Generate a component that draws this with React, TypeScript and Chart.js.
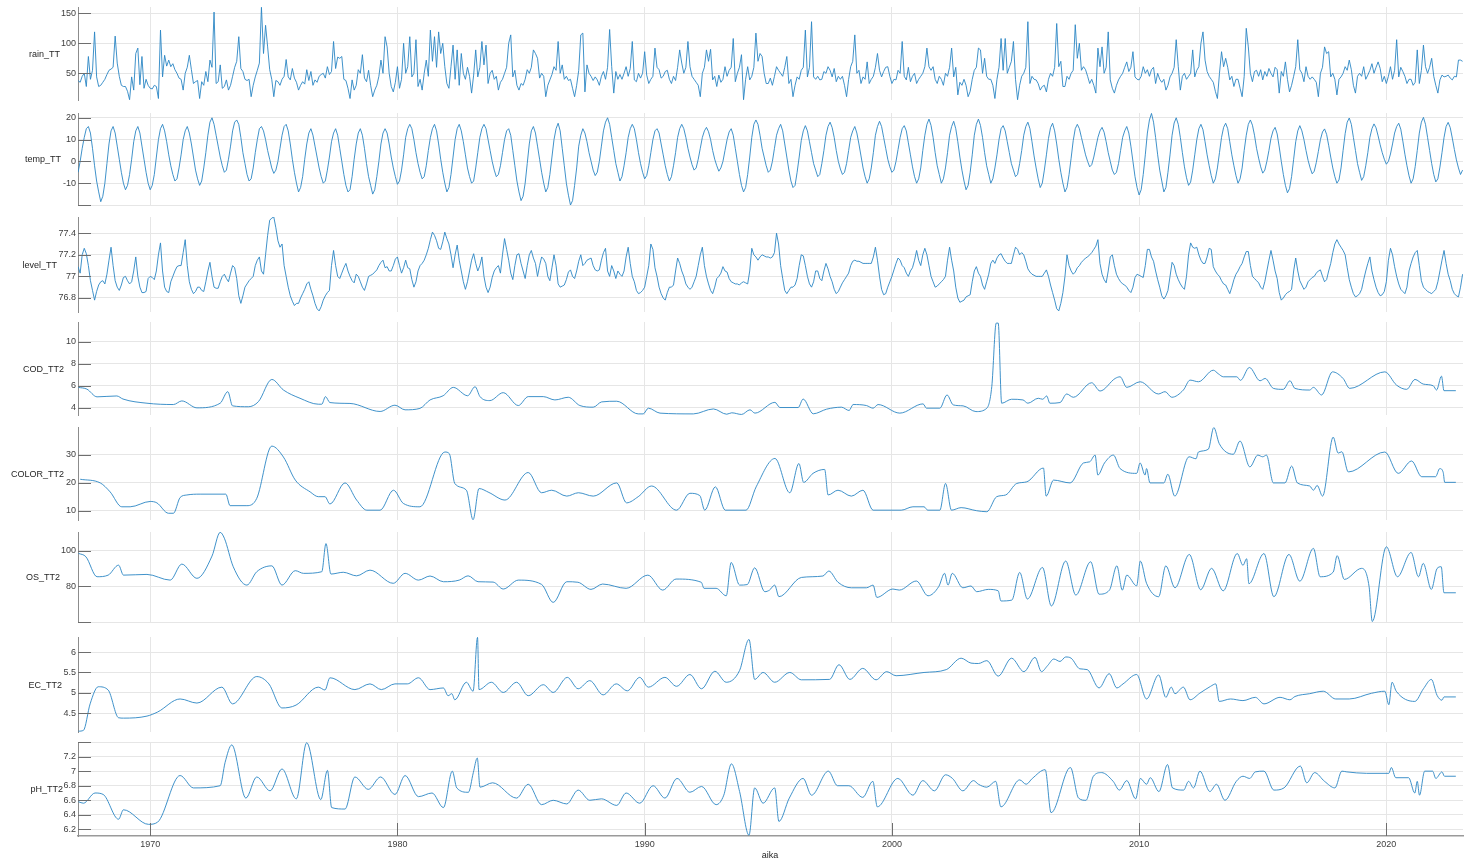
import React, { useEffect, useRef } from 'react';
import Chart from 'chart.js/auto';

// Monthly series, first value = Feb 1967, last value = Feb 2023 (one row per year)
const rainMonthly = [
  38, 35, 45, 50, 28, 78, 40, 55, 119, 44, 28,
  30, 35, 40, 48, 55, 57, 60, 112, 67, 45, 30, 28,
  28, 20, 6, 44, 22, 83, 92, 31, 78, 25, 40, 30,
  25, 24, 30, 28, 8, 122, 44, 80, 62, 72, 61, 66,
  56, 50, 42, 40, 22, 50, 60, 80, 56, 33, 36, 38,
  8, 36, 30, 53, 36, 72, 60, 152, 33, 36, 64, 25,
  28, 39, 22, 30, 45, 60, 70, 111, 58, 53, 40, 38,
  40, 11, 30, 44, 55, 67, 160, 83, 130, 94, 56, 40,
  11, 38, 36, 30, 40, 45, 73, 44, 39, 58, 42, 35,
  22, 30, 36, 32, 56, 38, 53, 30, 39, 35, 45, 48,
  50, 42, 61, 48, 53, 103, 58, 77, 75, 78, 40, 38,
  25, 8, 39, 22, 30, 56, 50, 81, 42, 36, 55, 30,
  11, 22, 30, 45, 72, 50, 111, 94, 50, 28, 19, 35,
  61, 25, 40, 100, 50, 61, 111, 44, 50, 106, 28, 40,
  22, 50, 72, 45, 122, 70, 111, 60, 119, 83, 100, 61,
  33, 25, 61, 97, 40, 89, 30, 83, 50, 40, 60, 45,
  17, 47, 89, 44, 60, 103, 64, 97, 33, 50, 55, 40,
  45, 22, 35, 40, 50, 60, 100, 114, 44, 55, 30, 22,
  33, 30, 40, 56, 50, 60, 89, 83, 75, 42, 50, 45,
  11, 30, 39, 48, 61, 55, 103, 50, 64, 40, 45, 38,
  40, 25, 11, 30, 55, 114, 117, 19, 64, 50, 45, 38,
  44, 39, 30, 45, 53, 40, 60, 123, 61, 17, 53, 40,
  48, 40, 50, 61, 45, 58, 103, 39, 36, 50, 42, 50,
  86, 47, 33, 40, 45, 92, 60, 56, 42, 45, 53, 55,
  40, 33, 45, 38, 60, 89, 67, 50, 60, 103, 61, 45,
  40, 35, 30, 11, 50, 60, 89, 70, 90, 39, 45, 28,
  47, 35, 40, 61, 45, 55, 60, 108, 36, 50, 60, 81,
  6, 40, 61, 39, 45, 60, 117, 70, 83, 78, 50, 33,
  33, 42, 30, 45, 61, 55, 50, 45, 60, 78, 33, 40,
  11, 30, 44, 40, 55, 60, 122, 44, 60, 136, 44, 40,
  45, 39, 40, 53, 50, 61, 55, 44, 58, 36, 45, 40,
  45, 30, 11, 40, 61, 70, 114, 50, 55, 33, 44, 40,
  69, 33, 40, 45, 60, 83, 55, 44, 53, 60, 61, 45,
  33, 40, 39, 55, 50, 103, 45, 39, 60, 36, 45, 50,
  33, 40, 45, 50, 61, 92, 61, 55, 61, 40, 33, 45,
  40, 30, 50, 45, 60, 92, 44, 60, 14, 35, 30, 40,
  30, 11, 20, 40, 55, 60, 92, 89, 50, 75, 45, 40,
  40, 30, 8, 40, 60, 108, 55, 108, 50, 60, 70, 103,
  40, 6, 30, 45, 50, 60, 136, 33, 45, 40, 39, 33,
  22, 28, 30, 19, 40, 50, 45, 60, 133, 61, 70, 28,
  28, 45, 40, 50, 55, 131, 75, 100, 55, 61, 56, 45,
  33, 40, 30, 17, 92, 61, 94, 50, 60, 119, 39, 25,
  17, 30, 39, 45, 50, 60, 69, 53, 60, 86, 44, 40,
  39, 45, 61, 50, 56, 45, 56, 60, 33, 50, 40, 35,
  40, 22, 30, 44, 50, 60, 106, 61, 22, 45, 50, 40,
  45, 50, 89, 44, 55, 61, 100, 119, 72, 53, 45, 40,
  35, 20, 8, 50, 86, 61, 75, 60, 39, 45, 28, 40,
  40, 25, 11, 45, 125, 94, 50, 36, 53, 55, 45, 56,
  39, 53, 45, 58, 50, 44, 60, 56, 17, 53, 45, 69,
  40, 19, 30, 45, 61, 106, 56, 50, 36, 61, 45, 40,
  44, 40, 35, 11, 50, 60, 94, 83, 86, 44, 50, 40,
  14, 40, 44, 50, 61, 55, 72, 56, 30, 17, 45, 50,
  45, 61, 40, 47, 55, 66, 50, 60, 69, 58, 36, 45,
  33, 45, 61, 40, 55, 106, 44, 60, 53, 45, 33, 40,
  40, 30, 35, 89, 33, 55, 97, 61, 50, 60, 75, 45,
  30, 17, 39, 47, 44, 45, 47, 42, 39, 45, 44, 72,
  72, 70,
];

const tempMonthly = [
  -5, 0, 6, 11, 15, 16, 13, 6, -2, -9, -14,
  -18.5, -16, -10, -1, 8, 14, 16, 13, 7, 1, -5, -10,
  -13, -11, -6, 1, 9, 14, 16, 13, 7, 1, -5, -10,
  -13, -11, -6, 2, 10, 15, 17, 14, 9, 3, -2, -6,
  -9, -8, -3, 3, 10, 14, 16, 13, 8, 2, -4, -8,
  -11, -9, -3, 4, 12, 18, 20, 17, 12, 7, 2, -2,
  -5, -4, 1, 7, 14, 18, 19, 17, 11, 4, -1, -6,
  -9, -8, -3, 4, 10, 15, 16, 14, 10, 5, 1, -3,
  -5.5, -4, 0, 6, 12, 16, 17, 14, 8, 1, -5, -10,
  -14, -12, -7, 1, 8, 13, 15, 12, 7, 2, -3, -7,
  -10, -9, -4, 2, 9, 13, 15, 12, 6, 0, -6, -11,
  -14, -13, -7, 1, 8, 13, 15, 12, 6, -1, -7, -11,
  -15, -13, -7, 0, 8, 13, 15, 13, 8, 2, -3, -7,
  -10.5, -9, -4, 3, 11, 15, 17, 15, 10, 4, -1, -5,
  -8, -7, -2, 5, 11, 15, 17, 14, 8, 1, -5, -10,
  -14, -12, -6, 2, 10, 15, 17, 14, 9, 3, -3, -7,
  -10, -9, -3, 4, 11, 15, 17, 15, 10, 5, 0, -4,
  -7, -6, -2, 4, 10, 14, 15, 12, 5, -2, -9, -14,
  -18, -16, -10, -1, 8, 14, 16, 13, 7, 1, -5, -10,
  -14, -12, -6, 2, 10, 15, 17.5, 14, 6, -2, -10, -15.5,
  -20, -18, -11, -3, 7, 12, 15, 13, 9, 4, 0, -4,
  -6.5, -5, 0, 7, 14, 18, 20, 17, 11, 5, -1, -5,
  -9, -7, -2, 4, 11, 15, 17, 15, 10, 4, -1, -5,
  -8, -6.5, -2, 4, 10, 14, 15, 13, 8, 3, -2, -6,
  -9, -7, -2, 4, 11, 15, 17, 15, 11, 6, 2, -1.5,
  -4, -3, 1, 6, 11, 14, 15.6, 13.6, 10, 5, 1, -2,
  -4.5, -3, 0, 5, 10, 13.5, 15, 12, 6, 0, -6, -11,
  -14, -12, -6, 2, 11, 17, 19, 17, 12, 6, 2, -2,
  -5, -4, 0, 6, 12, 15, 17, 14, 8, 2, -4, -9,
  -12, -11, -5, 2, 9.5, 14, 16.4, 14, 9, 4, -1, -4,
  -7, -6, -1, 5, 12, 16, 18, 15.5, 11, 5, 0, -3.5,
  -6, -5, -1, 5, 11, 14, 16, 13, 8, 2.5, -3, -7,
  -10, -8, -3, 4, 12, 16, 18.4, 16, 11, 6, 1, -2.5,
  -5, -4, 0, 5.5, 11, 15, 16.4, 14, 8.5, 3, -2.5, -7,
  -10, -8, -3, 5, 12, 17, 19.4, 16.5, 11, 4, -2, -6,
  -10, -8, -3, 4, 12, 16, 18.4, 15, 9, 2, -4, -9,
  -13, -11, -5, 3, 12, 17, 19.4, 16.5, 11, 4, -2, -6,
  -10, -8, -3, 3, 10, 15, 16.4, 14, 9, 4, -1, -4,
  -7, -6, -1, 5, 12, 16, 18, 15, 9, 2.5, -3, -8,
  -12, -10, -4, 3, 10.5, 15.5, 17.5, 14, 8, 1, -5, -10,
  -14, -12, -6, 1.5, 9.5, 15, 17, 15, 11, 7, 3, 0,
  -2.5, -1.5, 2, 6.5, 11, 14, 15.6, 13.4, 9, 4, 0, -4,
  -6, -5, -1, 5, 11, 14, 16, 13, 7, 0, -7, -12,
  -15.4, -13, -6, 3, 13, 19, 22, 18, 11, 3, -4, -9,
  -14, -12, -5, 3, 12, 17.6, 20, 17, 11, 4, -2.5, -7.5,
  -11, -9.5, -4, 3, 10, 15, 17, 14.5, 9, 3, -2, -6.5,
  -10, -8, -3, 4, 11, 15.6, 17.5, 15, 9, 3, -2, -6.5,
  -10, -8, -3, 5, 12, 17, 19, 16.6, 12, 6, 1.5, -2.5,
  -5.4, -4, 0, 5, 10.6, 14, 15.6, 12.6, 6.6, 0, -6, -11,
  -14.4, -12.5, -7, 1, 9, 14, 16.4, 14, 10, 5, 0.5, -3,
  -5.7, -4.5, -0.5, 4.6, 10, 13.5, 14.9, 12.4, 7.4, 2, -3, -7,
  -10, -8.5, -3, 5, 12.7, 18, 19.9, 17, 11, 5, -1, -5,
  -8.7, -7, -2, 4, 11, 15, 17.2, 15.4, 11.7, 7.6, 4, 1,
  -1.3, 0, 3.4, 8, 13, 16, 17.5, 14.8, 9.3, 3.3, -2, -6.6,
  -10, -8, -2.4, 5, 13, 18, 20.2, 17, 11, 5, -1, -6,
  -9.4, -8, -2.6, 4, 11, 16, 17.9, 15.5, 10.7, 5.5, 0.7, -3,
  -6, -4,
];

const levelMonthly = [
  77.09, 77.03, 77.2, 77.26, 77.21, 77.1, 76.96, 76.87, 76.78, 76.86, 76.92,
  76.95, 76.96, 76.93, 77.02, 77.15, 77.27, 77.1, 76.96, 76.9, 76.87, 76.92, 76.99,
  77.0, 76.96, 76.93, 76.95, 77.05, 77.18, 77.0, 76.9, 76.85, 76.85, 76.86, 76.98,
  77.0, 76.99, 76.97, 77.05, 77.2, 77.31, 77.05, 76.9, 76.86, 76.85, 76.95, 77.0,
  77.05, 77.09, 77.1, 77.1, 77.22, 77.34, 77.1, 76.95, 76.88, 76.84, 76.86, 76.9,
  76.9, 76.87, 76.86, 76.95, 77.05, 77.13, 77.0, 76.9, 76.89, 76.89, 76.95, 77.0,
  77.02, 76.98, 76.95, 77.03, 77.1, 77.08, 76.98, 76.82, 76.75, 76.82, 76.9, 76.93,
  76.96, 76.98, 77.0, 77.1, 77.15, 77.18, 77.05, 77.02, 77.2, 77.38, 77.52, 77.54,
  77.55, 77.45, 77.33, 77.27, 77.3, 77.1, 77.0, 76.9, 76.82, 76.77, 76.73, 76.75,
  76.75, 76.8, 76.84, 76.88, 76.93, 76.95, 76.88, 76.82, 76.75, 76.7, 76.68, 76.72,
  76.78, 76.82, 76.85, 76.87, 77.1, 77.24, 77.1, 77.0, 76.98, 77.03, 77.08, 77.12,
  77.05, 77.0, 76.96, 76.94, 77.02, 77.0, 76.95, 76.9, 76.87, 76.93, 77.0, 77.01,
  77.02, 77.04, 77.06, 77.1, 77.13, 77.15, 77.08, 77.09, 77.05, 77.05, 77.1, 77.16,
  77.18, 77.1, 77.03, 77.08, 77.15, 77.08, 77.07, 76.97, 76.9, 76.95, 77.05, 77.1,
  77.12, 77.15, 77.2, 77.26, 77.34, 77.41, 77.38, 77.33, 77.26, 77.25, 77.32, 77.41,
  77.35, 77.3, 77.2, 77.08, 77.2, 77.29, 77.15, 77.05, 76.95, 76.88, 76.95, 77.05,
  77.15, 77.21, 77.12, 77.05, 77.1, 77.18, 77.0, 76.9, 76.85, 76.9, 76.99, 77.05,
  77.08, 77.1, 77.03, 77.2, 77.35, 77.25, 77.15, 77.03, 76.97, 77.1, 77.2, 77.21,
  77.12, 77.05, 76.98, 77.1, 77.2, 77.24, 77.17, 77.12, 77.0, 77.1, 77.18, 77.16,
  77.12, 77.0, 76.96, 77.08, 77.2, 77.1, 76.93, 76.9, 76.91, 76.92, 76.97, 77.04,
  77.06, 77.0, 76.98, 77.05, 77.14, 77.2, 77.1, 77.12, 77.15, 77.16, 77.17, 77.1,
  77.06, 77.05, 77.06, 77.15, 77.22, 77.26, 77.05, 77.0, 77.1, 77.05, 76.98, 77.05,
  77.02, 77.0, 77.05, 77.18, 77.27, 77.12, 77.0, 76.95, 76.87, 76.84, 76.85, 76.87,
  76.9, 77.0, 77.1, 77.3, 77.25, 77.08, 77.0, 76.9, 76.84, 76.8, 76.78, 76.85,
  76.9, 76.9, 76.92, 77.05, 77.17, 77.12, 77.05, 77.0, 76.93, 76.9, 76.88, 76.9,
  76.95, 77.0, 77.1, 77.2, 77.27, 77.1, 77.0, 76.93, 76.87, 76.84, 76.9, 76.98,
  77.0, 77.03, 77.09, 77.05, 77.04, 76.98, 76.95, 76.94, 76.93, 76.93, 76.92, 76.94,
  76.95, 76.94, 76.93, 77.05, 77.26, 77.2, 77.18, 77.15, 77.18, 77.2, 77.19, 77.18,
  77.18, 77.17, 77.18, 77.22, 77.4, 77.3, 77.1, 76.98, 76.87, 76.84, 76.87, 76.9,
  76.9, 76.92, 76.98, 77.1, 77.2, 77.19, 77.1, 77.0, 76.93, 76.9, 76.95, 77.05,
  77.05, 76.98, 76.96, 77.05, 77.12, 77.07, 77.0, 76.95, 76.88, 76.84, 76.86, 76.9,
  76.94, 76.97, 77.0, 77.03, 77.1, 77.14, 77.15, 77.14, 77.14, 77.13, 77.12, 77.12,
  77.12, 77.12, 77.12, 77.18, 77.27, 77.15, 77.0, 76.88, 76.83, 76.84, 76.9, 76.95,
  77.0, 77.06, 77.12, 77.17, 77.15, 77.1, 77.08, 77.03, 77.0, 77.05, 77.08, 77.15,
  77.24, 77.15, 77.1, 77.2, 77.26, 77.2, 77.1, 77.0, 76.95, 76.9, 76.91, 76.93,
  76.95, 76.97, 77.0, 77.15, 77.27, 77.15, 77.05, 76.9, 76.8, 76.76, 76.77, 76.78,
  76.81, 76.82, 76.83, 76.95, 77.05, 77.09, 77.03, 77.0, 76.92, 76.88, 76.95, 77.02,
  77.12, 77.15, 77.12, 77.17, 77.2, 77.21, 77.17, 77.14, 77.12, 77.12, 77.12, 77.2,
  77.27, 77.25, 77.2, 77.22, 77.2, 77.14, 77.07, 77.04, 77.02, 77.01, 77.0, 77.0,
  77.0, 77.0, 77.03, 77.06, 77.0, 76.92, 76.85, 76.78, 76.7, 76.68, 76.75, 76.85,
  77.0, 77.2, 77.1, 77.05, 77.02, 77.04, 77.08, 77.1, 77.13, 77.15, 77.17, 77.18,
  77.2, 77.22, 77.25, 77.28, 77.34, 77.12, 77.02, 76.97, 76.94, 77.05, 77.18, 77.2,
  77.1, 77.02, 76.98, 76.95, 76.93, 76.92, 76.9, 76.87, 76.85, 76.9, 76.99, 77.02,
  77.01, 77.0, 76.99, 77.1, 77.25, 77.25, 77.18, 77.14, 77.05, 76.97, 76.9, 76.82,
  76.79, 76.82, 76.87, 77.0, 77.13, 77.1, 77.02, 76.97, 76.93, 76.9, 76.88, 77.0,
  77.2, 77.31, 77.27, 77.26, 77.27, 77.2, 77.15, 77.12, 77.12, 77.18, 77.26, 77.25,
  77.09, 77.05, 77.02, 77.0, 76.96, 76.93, 76.92, 76.88, 76.84, 76.9, 76.97, 77.02,
  77.05, 77.09, 77.12, 77.18, 77.23, 77.23, 77.1, 77.0, 76.98, 76.96, 76.94, 76.9,
  76.88, 76.95, 77.05, 77.15, 77.24, 77.15, 77.05, 76.98, 76.85, 76.78, 76.8, 76.83,
  76.85, 76.86, 76.88, 77.05, 77.17, 77.05, 76.96, 76.92, 76.88, 76.9, 76.95, 76.97,
  76.99, 77.0, 77.03, 77.05, 77.06, 77.0, 76.95, 76.97, 77.05, 77.12, 77.22, 77.3,
  77.34, 77.3, 77.27, 77.24, 77.2, 77.08, 76.97, 76.9, 76.84, 76.81, 76.82, 76.84,
  76.88, 76.97, 77.05, 77.12, 77.18, 77.05, 76.97, 76.9, 76.85, 76.82, 76.83, 76.86,
  76.95, 77.15, 77.26, 77.2, 77.09, 77.0, 76.93, 76.88, 76.86, 76.84, 76.9, 77.05,
  77.12, 77.18, 77.22, 77.24, 77.1, 76.96, 76.9, 76.88, 76.86, 76.85, 76.84, 76.86,
  76.88, 76.95, 77.05, 77.15, 77.24, 77.12, 77.02, 76.96, 76.88, 76.84, 76.82, 76.81,
  76.9, 77.02,
];

// Water quality samples, [decimal year, value]
const codPoints = [
  [1967.1, 5.86], [1967.44, 5.7], [1967.85, 5.0], [1968.65, 5.08], [1968.9, 4.8], [1969.87, 4.42],
  [1970.94, 4.3], [1971.28, 4.63], [1971.89, 4.0], [1972.83, 4.42], [1973.14, 5.47], [1973.33, 4.18],
  [1973.97, 4.1], [1974.38, 4.57], [1974.92, 6.58], [1975.39, 5.62], [1976.06, 4.87], [1976.8, 4.33],
  [1976.94, 4.33], [1977.09, 5.02], [1977.27, 4.48], [1978.08, 4.4], [1979.3, 3.67], [1979.9, 4.24],
  [1980.31, 3.82], [1980.91, 3.95], [1981.32, 4.72], [1981.85, 5.1], [1982.26, 5.86], [1982.84, 5.1],
  [1983.14, 5.92], [1983.34, 5.02], [1983.74, 4.66], [1984.28, 5.38], [1984.89, 4.21], [1985.29, 5.02],
  [1985.9, 5.02], [1986.37, 4.72], [1986.91, 4.96], [1987.38, 4.21], [1987.92, 4.06], [1988.26, 4.54],
  [1988.87, 4.6], [1989.74, 3.45], [1989.94, 3.45], [1990.15, 3.97], [1990.62, 3.52], [1991.97, 3.45],
  [1992.78, 3.9], [1993.32, 3.42], [1993.52, 3.55], [1993.92, 3.4], [1994.26, 3.82], [1994.46, 3.52],
  [1995.27, 4.5], [1995.47, 4.03], [1996.21, 4.03], [1996.41, 4.8], [1996.82, 3.46], [1997.36, 3.88],
  [1997.96, 4.06], [1998.27, 3.76], [1998.43, 4.3], [1998.97, 4.21], [1999.24, 3.97], [1999.44, 4.3],
  [2000.32, 3.52], [2001.26, 4.36], [2001.4, 3.97], [2001.94, 3.97], [2002.23, 5.17], [2002.48, 4.27],
  [2002.88, 4.18], [2003.4, 3.66], [2003.84, 3.97], [2004.04, 5.92], [2004.22, 11.7], [2004.3, 11.7],
  [2004.44, 4.42], [2004.84, 4.78], [2005.3, 4.72], [2005.5, 4.42], [2005.92, 4.87], [2006.1, 4.78],
  [2006.26, 5.08], [2006.39, 4.42], [2006.8, 4.48], [2007.07, 5.26], [2007.34, 4.96], [2008.08, 6.28],
  [2008.42, 5.53], [2009.03, 6.67], [2009.23, 6.82], [2009.5, 5.86], [2010.04, 6.37], [2010.78, 5.26],
  [2011.05, 5.47], [2011.32, 4.96], [2011.79, 5.62], [2012.06, 6.52], [2012.4, 6.37], [2013.0, 7.42],
  [2013.2, 7.1], [2013.41, 6.82], [2013.95, 6.82], [2014.1, 6.5], [2014.46, 7.67], [2014.89, 6.46],
  [2015.1, 6.67], [2015.43, 5.77], [2015.83, 5.68], [2016.1, 6.46], [2016.3, 5.77], [2016.9, 5.62],
  [2017.05, 5.86], [2017.38, 5.17], [2017.82, 7.27], [2018.25, 6.67], [2018.52, 5.77], [2019.94, 7.27],
  [2020.41, 6.07], [2020.82, 5.68], [2021.16, 6.58], [2021.49, 6.16], [2021.9, 6.0], [2022.03, 5.62],
  [2022.23, 6.88], [2022.33, 5.56], [2022.81, 5.56],
];

const colorPoints = [
  [1967.17, 21.2], [1967.98, 19.9], [1968.38, 16.7], [1968.85, 11.4], [1969.19, 11.4], [1970.0, 13.3],
  [1970.27, 12.8], [1970.74, 9.1], [1970.94, 9.1], [1971.21, 14.7], [1971.48, 15.6], [1972.02, 15.9],
  [1973.06, 15.9], [1973.23, 11.8], [1973.91, 11.8], [1974.31, 14.4], [1974.92, 33.0], [1975.39, 29.1],
  [1975.87, 20.9], [1976.47, 16.7], [1976.8, 15.0], [1977.07, 15.0], [1977.27, 12.4], [1977.88, 19.9],
  [1978.35, 13.8], [1978.76, 10.2], [1979.3, 10.2], [1979.84, 17.3], [1980.24, 12.6], [1980.91, 11.4],
  [1981.92, 30.9], [1982.1, 30.3], [1982.32, 19.7], [1982.79, 17.3], [1983.06, 6.8], [1983.3, 17.9],
  [1983.7, 16.5], [1984.35, 13.8], [1985.29, 23.6], [1985.83, 16.4], [1986.24, 17.3], [1986.85, 15.2],
  [1987.32, 16.4], [1987.92, 15.2], [1988.87, 19.9], [1989.27, 12.8], [1989.74, 15.0], [1990.28, 18.8],
  [1991.29, 10.2], [1991.83, 16.2], [1992.23, 15.4], [1992.43, 10.2], [1992.86, 18.5], [1993.26, 10.2],
  [1994.1, 10.2], [1994.51, 18.5], [1995.27, 28.6], [1995.87, 16.4], [1996.24, 26.8], [1996.43, 20.1],
  [1996.81, 23.3], [1997.28, 24.7], [1997.42, 15.6], [1997.82, 17.3], [1998.36, 15.2], [1998.83, 17.3],
  [1999.24, 10.2], [2000.38, 10.2], [2000.85, 11.4], [2001.3, 11.4], [2001.45, 10.2], [2001.94, 10.2],
  [2002.17, 19.7], [2002.41, 10.2], [2002.8, 11.1], [2003.43, 10.0], [2003.84, 9.65], [2004.24, 15.0],
  [2004.6, 15.6], [2005.05, 19.7], [2005.46, 20.3], [2006.13, 25.2], [2006.24, 15.2], [2006.54, 20.9],
  [2007.21, 19.9], [2007.75, 27.0], [2008.0, 27.4], [2008.22, 29.8], [2008.33, 22.7], [2008.6, 27.0],
  [2008.96, 29.8], [2009.23, 25.0], [2009.9, 23.3], [2010.04, 27.0], [2010.24, 22.7], [2010.3, 25.0],
  [2010.44, 19.9], [2011.0, 19.9], [2011.16, 23.0], [2011.44, 15.2], [2012.02, 29.2], [2012.3, 28.5],
  [2012.4, 30.9], [2012.8, 31.9], [2013.02, 39.6], [2013.24, 33.9], [2013.81, 30.1], [2014.08, 34.8],
  [2014.48, 25.6], [2014.8, 29.8], [2015.0, 29.2], [2015.15, 29.8], [2015.43, 19.9], [2015.9, 19.9],
  [2016.17, 25.9], [2016.4, 19.9], [2016.9, 18.8], [2017.05, 17.3], [2017.2, 19.0], [2017.42, 15.2],
  [2017.85, 36.2], [2018.05, 30.5], [2018.2, 31.0], [2018.46, 23.8], [2019.94, 30.9], [2020.48, 23.3],
  [2021.02, 27.7], [2021.43, 22.1], [2021.99, 22.1], [2022.16, 25.0], [2022.3, 23.6], [2022.36, 20.1],
  [2022.81, 20.1],
];

const osPoints = [
  [1967.1, 98.5], [1967.4, 96.6], [1967.85, 85.4], [1968.3, 86.3], [1968.72, 91.9], [1968.92, 86.3],
  [1969.87, 86.7], [1970.81, 83.5], [1971.28, 92.5], [1971.89, 84.5], [1972.5, 97], [1972.83, 110.3],
  [1973.0, 107], [1973.36, 91], [1973.91, 80.7], [1974.31, 88.2], [1974.92, 91.5], [1975.33, 80.7],
  [1975.87, 88.8], [1976.2, 87.3], [1976.94, 88.2], [1977.11, 104], [1977.31, 86.9], [1977.81, 87.9],
  [1978.35, 85.9], [1978.89, 89.1], [1979.83, 81.7], [1980.31, 87.3], [1980.85, 83.5], [1981.32, 85.8],
  [1981.86, 82.6], [1982.5, 83.5], [1982.86, 85.9], [1983.26, 82.6], [1983.87, 82.4], [1984.28, 78.5],
  [1984.89, 83.5], [1985.83, 81.1], [1986.3, 71.0], [1986.85, 82.6], [1987.3, 82.3], [1987.83, 78.3],
  [1988.3, 81.3], [1989.25, 78.9], [1990.13, 86.3], [1990.73, 77.9], [1991.27, 84.1], [1992.29, 82.3],
  [1992.4, 78.9], [1992.89, 78.9], [1993.3, 74.7], [1993.5, 93.4], [1993.84, 80.7], [1994.15, 81],
  [1994.45, 90.4], [1994.86, 77.0], [1995.05, 77.9], [1995.26, 80.7], [1995.43, 74.2], [1996.34, 85],
  [1997.21, 85.8], [1997.45, 88.6], [1997.82, 82.3], [1998.36, 79.2], [1998.97, 79.2], [1999.24, 80.7],
  [1999.39, 73.8], [2000.04, 78.5], [2000.3, 77.9], [2000.99, 83.0], [2001.46, 74.7], [2001.9, 80],
  [2002.13, 87.3], [2002.27, 80.7], [2002.44, 87.3], [2002.87, 79.2], [2003.2, 80.2], [2003.43, 77],
  [2003.9, 78.3], [2004.3, 77.5], [2004.41, 71.8], [2004.85, 72.3], [2005.17, 87.8], [2005.48, 72.9],
  [2006.09, 90.6], [2006.45, 69.0], [2007.03, 94.2], [2007.44, 75.1], [2008.04, 93.8], [2008.38, 75.6],
  [2008.8, 77.9], [2009.1, 91.5], [2009.32, 77.9], [2009.5, 86.3], [2009.9, 80.3], [2010.05, 94.2],
  [2010.3, 81.7], [2010.79, 74.2], [2011.08, 91.5], [2011.45, 79.2], [2012.03, 97.9], [2012.49, 78.1],
  [2012.93, 90.1], [2013.4, 77.5], [2013.97, 98.4], [2014.2, 91.8], [2014.35, 95.5], [2014.44, 81.5],
  [2015.05, 98.4], [2015.45, 74.2], [2016.06, 97.9], [2016.5, 82.9], [2017.05, 101.3], [2017.32, 85.4],
  [2017.85, 88], [2018.01, 97.2], [2018.3, 83.9], [2019.0, 90.1], [2019.3, 80], [2019.43, 60.3],
  [2020.0, 102.2], [2020.45, 85.4], [2021.0, 99], [2021.3, 85.4], [2021.49, 92.9], [2021.82, 78.3],
  [2022.05, 90], [2022.22, 91], [2022.33, 76.4], [2022.81, 76.4],
];

const ecPoints = [
  [1967.1, 4.06], [1967.3, 4.08], [1967.57, 4.73], [1967.9, 5.15], [1968.3, 5.07], [1968.72, 4.39],
  [1968.92, 4.38], [1969.87, 4.43], [1970.3, 4.53], [1971.21, 4.85], [1971.89, 4.75], [1972.9, 5.14],
  [1973.33, 4.73], [1974.31, 5.4], [1974.8, 5.22], [1975.33, 4.63], [1975.9, 4.7], [1976.8, 5.14],
  [1977.07, 5.07], [1977.27, 5.37], [1978.28, 5.08], [1978.89, 5.22], [1979.35, 5.08], [1979.9, 5.22],
  [1980.4, 5.22], [1980.85, 5.37], [1981.32, 5.08], [1981.86, 5.12], [1982.05, 4.93], [1982.2, 4.98],
  [1982.32, 4.83], [1982.79, 5.26], [1983.06, 5.04], [1983.24, 6.36], [1983.3, 5.08], [1983.8, 5.26],
  [1984.28, 5.01], [1984.82, 5.26], [1985.29, 4.93], [1985.9, 5.2], [1986.3, 5.01], [1986.87, 5.38],
  [1987.31, 5.1], [1987.78, 5.3], [1988.32, 4.95], [1988.85, 5.22], [1989.3, 5.05], [1989.8, 5.38],
  [1990.15, 5.14], [1990.82, 5.38], [1991.29, 5.16], [1991.83, 5.45], [1992.3, 5.1], [1992.84, 5.53],
  [1993.3, 5.26], [1993.84, 5.55], [1994.22, 6.31], [1994.45, 5.33], [1994.79, 5.5], [1995.26, 5.26],
  [1995.87, 5.5], [1996.34, 5.32], [1997.48, 5.33], [1997.86, 5.69], [1998.3, 5.33], [1998.82, 5.6],
  [1999.36, 5.32], [1999.79, 5.52], [2000.17, 5.42], [2001.3, 5.5], [2002.2, 5.57], [2002.8, 5.85],
  [2003.2, 5.73], [2003.5, 5.72], [2003.84, 5.79], [2004.3, 5.41], [2004.84, 5.85], [2005.34, 5.52],
  [2005.79, 5.87], [2006.05, 5.52], [2006.3, 5.67], [2006.55, 5.83], [2006.8, 5.77], [2007.03, 5.88],
  [2007.25, 5.85], [2007.6, 5.59], [2007.9, 5.57], [2008.38, 5.12], [2008.79, 5.47], [2009.1, 5.12],
  [2009.35, 5.22], [2009.9, 5.45], [2010.3, 4.85], [2010.79, 5.44], [2011.08, 4.89], [2011.3, 5.14],
  [2011.45, 4.98], [2011.79, 5.14], [2012.06, 4.83], [2012.45, 4.99], [2012.89, 5.16], [2013.1, 5.22],
  [2013.24, 4.79], [2013.7, 4.85], [2014.2, 4.81], [2014.7, 4.89], [2015.05, 4.73], [2015.7, 4.89],
  [2016.1, 4.83], [2016.3, 4.91], [2016.9, 4.98], [2017.45, 5.04], [2017.95, 4.85], [2018.5, 4.85],
  [2019.4, 4.99], [2019.94, 5.04], [2020.1, 4.71], [2020.23, 5.26], [2020.4, 5.04], [2021.15, 4.79],
  [2021.5, 5.1], [2021.82, 5.33], [2022.05, 4.94], [2022.25, 4.82], [2022.33, 4.9], [2022.81, 4.9],
];

const phPoints = [
  [1967.1, 6.58], [1967.3, 6.56], [1967.77, 6.7], [1968.1, 6.68], [1968.72, 6.34], [1968.92, 6.47],
  [1969.93, 6.27], [1970.3, 6.3], [1971.21, 6.94], [1971.75, 6.77], [1972.83, 6.8], [1973.03, 7.12],
  [1973.3, 7.36], [1973.87, 6.63], [1974.31, 6.92], [1974.85, 6.73], [1975.33, 7.03], [1975.91, 6.62],
  [1976.33, 7.39], [1976.9, 6.61], [1977.17, 7.01], [1977.34, 6.5], [1977.88, 6.48], [1978.28, 6.92],
  [1978.82, 6.75], [1979.32, 6.92], [1979.9, 6.68], [1980.31, 6.94], [1980.85, 6.65], [1981.4, 6.7],
  [1981.86, 6.5], [1982.22, 7.0], [1982.4, 6.77], [1982.87, 6.71], [1983.07, 6.98], [1983.23, 7.18],
  [1983.34, 6.78], [1983.85, 6.84], [1984.82, 6.63], [1985.29, 6.82], [1985.83, 6.54], [1986.3, 6.6],
  [1986.85, 6.55], [1987.31, 6.74], [1987.78, 6.6], [1988.25, 6.62], [1988.87, 6.53], [1989.25, 6.7],
  [1989.8, 6.56], [1990.34, 6.8], [1990.82, 6.63], [1991.31, 6.9], [1991.83, 6.71], [1992.3, 6.79],
  [1992.89, 6.54], [1993.2, 6.67], [1993.51, 7.1], [1993.84, 6.72], [1994.22, 6.12], [1994.45, 6.77],
  [1994.79, 6.56], [1995.26, 6.77], [1995.43, 6.31], [1995.85, 6.63], [1996.41, 6.9], [1996.75, 6.67],
  [1997.43, 7.0], [1997.8, 6.8], [1998.26, 6.8], [1998.82, 6.64], [1999.23, 6.86], [1999.41, 6.51],
  [2000.24, 6.9], [2000.85, 6.67], [2001.25, 6.87], [2001.72, 6.73], [2002.17, 6.95], [2002.45, 6.9],
  [2002.87, 6.73], [2003.3, 6.87], [2003.5, 6.82], [2003.84, 6.78], [2004.2, 6.86], [2004.41, 6.51],
  [2005.17, 6.88], [2005.43, 6.82], [2005.68, 6.9], [2006.2, 7.02], [2006.44, 6.43], [2007.22, 7.05],
  [2007.55, 6.63], [2007.85, 6.6], [2008.15, 6.93], [2008.48, 6.98], [2008.95, 6.86], [2009.2, 6.74],
  [2009.5, 6.87], [2009.86, 6.62], [2010.05, 6.9], [2010.3, 6.82], [2010.45, 6.91], [2010.8, 6.72],
  [2011.15, 7.09], [2011.35, 6.77], [2011.8, 6.74], [2012.0, 6.86], [2012.2, 6.77], [2012.46, 7.0],
  [2012.86, 6.72], [2013.13, 6.82], [2013.47, 6.6], [2013.93, 6.86], [2014.2, 6.93], [2014.47, 6.9],
  [2014.7, 6.99], [2015.05, 7.0], [2015.45, 6.74], [2015.86, 6.77], [2016.52, 7.07], [2016.78, 6.84],
  [2017.1, 6.98], [2017.5, 6.86], [2017.92, 6.77], [2018.2, 7.0], [2018.4, 6.99], [2019.2, 6.97],
  [2020.1, 6.97], [2020.2, 7.05], [2020.38, 6.91], [2020.9, 6.91], [2021.15, 6.7], [2021.25, 6.86],
  [2021.34, 6.67], [2021.55, 7.0], [2021.87, 7.0], [2022.0, 6.9], [2022.25, 6.99], [2022.35, 6.93],
  [2022.81, 6.93],
];

// Tick labels
const yearTicks = [1970, 1980, 1990, 2000, 2010, 2020];
const rainTicks = [50, 100, 150];
const tempTicks = [-20, -10, 0, 10, 20];
const levelTicks = [76.8, 77, 77.2, 77.4];
const codTicks = [4, 6, 8, 10];
const colorTicks = [10, 20, 30];
const osTicks = [60, 80, 100];
const ecTicks = [4.5, 5, 5.5, 6];
const phTicks = [6.2, 6.4, 6.6, 6.8, 7, 7.2, 7.4];

const FIRST_MONTH = 1967 + 1 / 12;
const fromMonthly = (values: number[]) => values.map((v, i) => ({ x: FIRST_MONTH + i / 12, y: v }));
const fromPairs = (pairs: number[][]) => pairs.map(([x, y]) => ({ x, y }));

const FONT = '"Liberation Sans", Arial, Helvetica, sans-serif';
const LINE = '#2a86c4';
const GRID = '#e6e6e6';

type Panel = {
  name: string;
  labelRight: number;
  top: number;
  bottom: number;
  min: number;
  max: number;
  ticks: number[];
  unlabeled: number[];
  points: { x: number; y: number }[];
  smooth: boolean;
};

const panels: Panel[] = [
  { name: 'rain_TT', labelRight: 60, top: 7, bottom: 100, min: 5.5, max: 160.5, ticks: rainTicks, unlabeled: [], points: fromMonthly(rainMonthly), smooth: false },
  { name: 'temp_TT', labelRight: 61, top: 113, bottom: 205, min: -20, max: 22.2, ticks: tempTicks, unlabeled: [-20], points: fromMonthly(tempMonthly), smooth: false },
  { name: 'level_TT', labelRight: 57, top: 217, bottom: 312, min: 76.67, max: 77.55, ticks: levelTicks, unlabeled: [], points: fromMonthly(levelMonthly), smooth: false },
  { name: 'COD_TT2', labelRight: 64, top: 322, bottom: 415, min: 3.35, max: 11.8, ticks: codTicks, unlabeled: [], points: fromPairs(codPoints), smooth: true },
  { name: 'COLOR_TT2', labelRight: 64, top: 427, bottom: 520, min: 6.7, max: 39.8, ticks: colorTicks, unlabeled: [], points: fromPairs(colorPoints), smooth: true },
  { name: 'OS_TT2', labelRight: 60, top: 532, bottom: 622, min: 60, max: 110.5, ticks: osTicks, unlabeled: [60], points: fromPairs(osPoints), smooth: true },
  { name: 'EC_TT2', labelRight: 62, top: 637, bottom: 732, min: 4.04, max: 6.37, ticks: ecTicks, unlabeled: [], points: fromPairs(ecPoints), smooth: true },
  { name: 'pH_TT2', labelRight: 63, top: 742, bottom: 836, min: 6.11, max: 7.4, ticks: phTicks, unlabeled: [7.4], points: fromPairs(phPoints), smooth: true },
];

const PAD = 6;
const PAGE_H = 863;

// MATLAB style tick marks pointing into the axes
const innerTicks = {
  id: 'innerTicks',
  afterDraw(chart: any, _args: any, opts: any) {
    const { ctx, chartArea, scales } = chart;
    ctx.save();
    ctx.strokeStyle = '#6e6e6e';
    ctx.lineWidth = 1;
    ctx.beginPath();
    for (const t of scales.y.ticks) {
      const py = Math.round(scales.y.getPixelForValue(t.value)) + 0.5;
      ctx.moveTo(chartArea.left, py);
      ctx.lineTo(chartArea.left + 13, py);
    }
    if (opts && opts.bottom) {
      for (const t of scales.x.ticks) {
        const px = Math.round(scales.x.getPixelForValue(t.value)) + 0.5;
        ctx.moveTo(px, chartArea.bottom);
        ctx.lineTo(px, chartArea.bottom - 13);
      }
    }
    ctx.stroke();
    ctx.restore();
  },
};

const App: React.FC = () => {
  const canvasRefs = useRef<(HTMLCanvasElement | null)[]>([]);

  useEffect(() => {
    const charts: Chart[] = [];
    panels.forEach((p, i) => {
      const canvas = canvasRefs.current[i];
      if (!canvas) return;
      const isLast = i === panels.length - 1;
      charts.push(
        new Chart(canvas, {
          type: 'line',
          data: {
            datasets: [
              {
                data: p.points,
                borderColor: LINE,
                borderWidth: 0.9,
                pointRadius: 0,
                fill: false,
                tension: p.smooth ? 0.4 : 0,
                cubicInterpolationMode: p.smooth ? 'monotone' : 'default',
              } as any,
            ],
          },
          options: {
            responsive: false,
            animation: false,
            events: [],
            layout: { padding: { top: PAD, bottom: isLast ? 0 : PAD, left: 0, right: 1 } },
            plugins: {
              legend: { display: false },
              tooltip: { enabled: false },
              innerTicks: { bottom: isLast },
            } as any,
            scales: {
              x: {
                type: 'linear',
                min: 1967.08,
                max: 2023.1,
                afterBuildTicks: (scale: any) => {
                  scale.ticks = yearTicks.map((v) => ({ value: v }));
                },
                afterFit: (scale: any) => {
                  scale.height = isLast ? PAGE_H - p.bottom : 0;
                  scale.paddingLeft = 0;
                  scale.paddingRight = 0;
                },
                grid: { color: GRID, drawTicks: false },
                border: { display: isLast, color: '#9a9a9a', width: 1.5 },
                ticks: {
                  display: isLast,
                  autoSkip: false,
                  maxRotation: 0,
                  padding: 3,
                  color: '#404040',
                  font: { family: FONT, size: 9 },
                  callback: (v: any) => String(v),
                },
              },
              y: {
                type: 'linear',
                position: 'left',
                min: p.min,
                max: p.max,
                afterBuildTicks: (scale: any) => {
                  scale.ticks = p.ticks.map((v) => ({ value: v }));
                },
                afterFit: (scale: any) => {
                  scale.width = 78;
                  scale.paddingTop = 0;
                  scale.paddingBottom = 0;
                },
                grid: { color: GRID, drawTicks: false },
                border: { display: true, color: '#8c8c8c', width: 1 },
                ticks: {
                  autoSkip: false,
                  padding: 2,
                  color: '#404040',
                  font: { family: FONT, size: 9 },
                  callback: (v: any) => (p.unlabeled.includes(Number(v)) ? '' : String(Math.round(Number(v) * 100) / 100)),
                },
              },
            },
          },
          plugins: [innerTicks],
        })
      );
    });
    return () => charts.forEach((c) => c.destroy());
  }, []);

  return (
    <div style={{ position: 'absolute', left: 0, top: 0, width: 1464, height: PAGE_H, background: '#fff', overflow: 'hidden' }}>
      {panels.map((p, i) => {
        const top = p.top - PAD;
        const height = i === panels.length - 1 ? PAGE_H - top : p.bottom - p.top + 2 * PAD;
        return (
          <canvas
            key={p.name}
            ref={(el) => {
              canvasRefs.current[i] = el;
            }}
            width={1464}
            height={height}
            style={{ position: 'absolute', left: 0, top, width: 1464, height }}
          />
        );
      })}
      {panels.map((p) => (
        <div
          key={p.name + '-label'}
          style={{
            position: 'absolute',
            left: 0,
            width: p.labelRight,
            top: (p.top + p.bottom) / 2 - 7,
            lineHeight: '14px',
            textAlign: 'right',
            fontFamily: FONT,
            fontSize: 9,
            color: '#262626',
            whiteSpace: 'nowrap',
          }}
        >
          {p.name}
        </div>
      ))}
      <div
        style={{
          position: 'absolute',
          left: 670,
          width: 200,
          top: 848,
          lineHeight: '14px',
          textAlign: 'center',
          fontFamily: FONT,
          fontSize: 9,
          color: '#262626',
        }}
      >
        aika
      </div>
    </div>
  );
};

export default App;
